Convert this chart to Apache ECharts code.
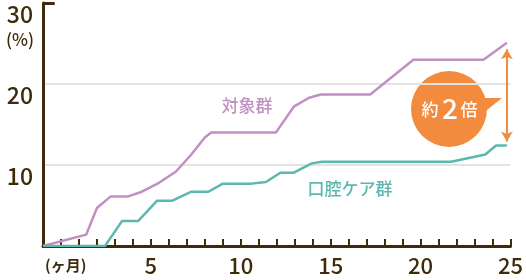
<!DOCTYPE html>
<html>
<head>
<meta charset="utf-8">
<script src="https://cdn.jsdelivr.net/npm/echarts@6/dist/echarts.min.js"></script>
<style>html,body{margin:0;padding:0;background:#fff}#c{width:526px;height:280px}</style>
</head>
<body>
<div id="c"></div>
<script>
// months (x) and cumulative incidence (%) for each group
const targetMonths = [-1, 1.4, 2, 2.75, 3.7, 4.5, 5.45, 6.4, 7.25, 8, 8.35, 11.95, 12.95, 13.8, 14.45, 17.2, 19.6, 23.5, 24.8];
const targetValues = [0, 1.4, 4.7, 6.1, 6.1, 6.7, 7.8, 9.2, 11.3, 13.4, 14.0, 14.0, 17.2, 18.3, 18.7, 18.7, 23.0, 23.0, 25.1];
const careMonths = [-1, 2.45, 3.4, 4.3, 5.35, 6.2, 7.25, 8.2, 9.0, 10.6, 11.4, 12.2, 12.95, 13.95, 14.5, 21.7, 23.6, 24.2, 24.8];
const careValues = [0, 0, 3.1, 3.1, 5.6, 5.6, 6.7, 6.7, 7.7, 7.7, 7.9, 9.05, 9.05, 10.2, 10.4, 10.4, 11.3, 12.4, 12.4];
const xTickLabels = [5, 10, 15, 20, 25];
const yTickLabels = [10, 20, 30];
const targetName = '対象群';
const careName = '口腔ケア群';
const ratioText = ['約', '2', '倍'];

const dark = '#3d2b0b';
const purple = '#c28fc3';
const teal = '#5cb8af';
const orange = '#f28b3d';
const font = '"Noto Sans CJK JP", "Noto Sans", sans-serif';

const chart = echarts.init(document.getElementById('c'));
const zip = (a, b) => a.map((v, i) => [v, b[i]]);

chart.setOption({
  animation: false,
  grid: { left: 43, right: 15, top: 3, bottom: 34 },
  xAxis: {
    type: 'value', min: -1, max: 25, interval: 1,
    axisLine: { onZero: false, lineStyle: { color: dark, width: 3 } },
    axisTick: { show: true, inside: true, length: 7, lineStyle: { color: dark, width: 2 } },
    axisLabel: {
      margin: 9, color: dark, fontSize: 22, fontFamily: font, fontWeight: 500,
      formatter: v => xTickLabels.includes(v) ? String(v) : ''
    },
    splitLine: { show: false }
  },
  yAxis: {
    type: 'value', min: 0, max: 30, interval: 10,
    axisLine: { show: true, onZero: false, lineStyle: { color: dark, width: 3 } },
    axisTick: { show: false },
    axisLabel: {
      margin: 10, color: dark, fontSize: 23, fontFamily: font, fontWeight: 500,
      verticalAlign: 'top',
      formatter: v => yTickLabels.includes(v) ? String(v) : ''
    },
    splitLine: { show: true, showMinLine: false, showMaxLine: false, lineStyle: { color: '#e4e4e4', width: 2 } }
  },
  series: [
    {
      type: 'line', name: targetName, data: zip(targetMonths, targetValues),
      showSymbol: false, lineStyle: { color: purple, width: 2.5 }, z: 3,
      markLine: {
        silent: true, symbol: ['none', 'none'], label: { show: false },
        lineStyle: { color: dark, width: 3, type: 'solid' },
        data: [[{ coord: [-1, 30] }, { coord: [-0.35, 30] }]]
      }
    },
    {
      type: 'line', name: careName, data: zip(careMonths, careValues),
      showSymbol: false, lineStyle: { color: teal, width: 2.5 }, z: 3,
      markLine: {
        silent: true, symbol: ['arrow', 'arrow'], symbolSize: [9, 10], label: { show: false },
        lineStyle: { color: orange, width: 2, type: 'solid' },
        data: [[{ coord: [24.8, 24.3] }, { coord: [24.8, 12.9] }]]
      }
    }
  ],
  graphic: [
    { type: 'text', left: 6, top: 31, style: { text: '(%)', fill: dark, font: '500 17px ' + font } },
    { type: 'text', left: 45, top: 258, style: { text: '(ヶ月)', fill: dark, font: 'bold 15px ' + font } },
    { type: 'text', x: 247, y: 106, style: { text: targetName, fill: purple, font: '500 17px ' + font, align: 'center', verticalAlign: 'middle' } },
    { type: 'text', x: 350, y: 189, style: { text: careName, fill: teal, font: '500 17px ' + font, align: 'center', verticalAlign: 'middle' } },
    { type: 'polygon', shape: { points: [[478, 98], [502, 98], [482, 114]] }, style: { fill: orange } },
    { type: 'circle', shape: { cx: 449, cy: 109, r: 38 }, style: { fill: orange } },
    { type: 'text', x: 430, y: 110, style: { text: ratioText[0], fill: '#fff', font: '500 17px ' + font, align: 'center', verticalAlign: 'middle' } },
    { type: 'text', x: 450, y: 108, style: { text: ratioText[1], fill: '#fff', font: '500 28px ' + font, align: 'center', verticalAlign: 'middle' } },
    { type: 'text', x: 469, y: 110, style: { text: ratioText[2], fill: '#fff', font: '500 17px ' + font, align: 'center', verticalAlign: 'middle' } }
  ]
});
</script>
</body>
</html>
